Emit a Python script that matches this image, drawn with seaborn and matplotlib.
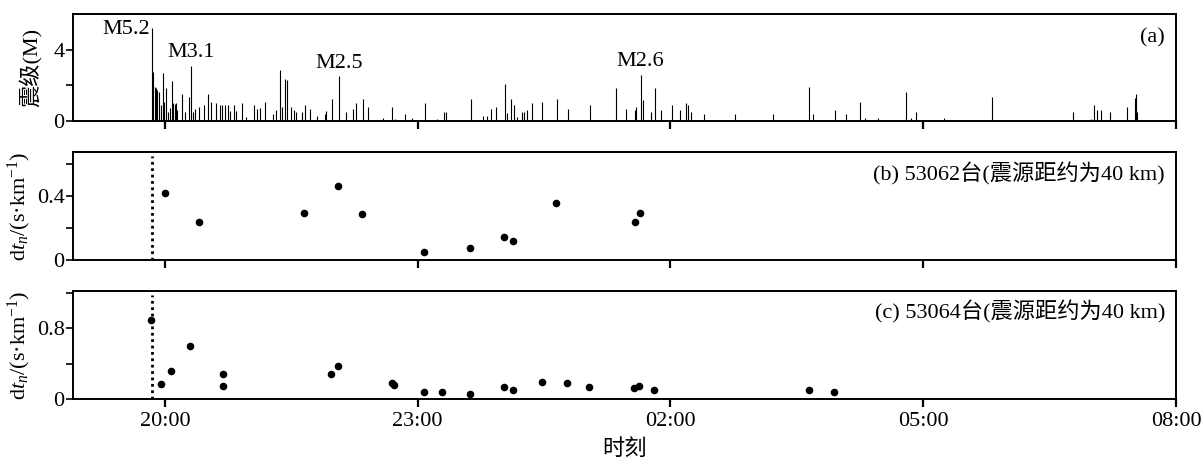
import numpy as np
import matplotlib
matplotlib.use("Agg")
import matplotlib.pyplot as plt
import seaborn as sns

# ---- data: time in hours after 20:00 ----
quake_t = [-0.151, -0.139, -0.122, -0.107, -0.091, -0.075, -0.051, -0.027, -0.012, 0.012,
           0.039, 0.059, 0.087, 0.098, 0.115, 0.130, 0.146, 0.202, 0.245, 0.288,
           0.312, 0.336, 0.359, 0.407, 0.462, 0.518, 0.549, 0.605, 0.660, 0.684,
           0.715, 0.747, 0.771, 0.818, 0.850, 0.913, 0.961, 1.055, 1.095, 1.135,
           1.189, 1.284, 1.316, 1.364, 1.391, 1.427, 1.450, 1.498, 1.538, 1.562,
           1.628, 1.660, 1.728, 1.802, 1.897, 1.917, 1.984, 2.067, 2.155, 2.238,
           2.273, 2.351, 2.411, 2.593, 2.700, 2.727, 2.846, 2.933, 3.083, 3.234,
           3.308, 3.332, 3.629, 3.779, 3.818, 3.874, 3.933, 4.032, 4.056, 4.111,
           4.142, 4.182, 4.242, 4.261, 4.301, 4.360, 4.479, 4.652, 4.782, 5.048,
           5.352, 5.467, 5.577, 5.597, 5.645, 5.676, 5.775, 5.814, 5.890, 6.024,
           6.119, 6.182, 6.210, 6.246, 6.403, 6.771, 7.221, 7.645, 7.692, 7.949,
           8.084, 8.245, 8.309, 8.458, 8.799, 8.855, 8.914, 9.241, 9.822, 10.783,
           10.996, 11.028, 11.060, 11.111, 11.218, 11.423, 11.511, 11.523, 11.535]
quake_m = [5.2, 2.74, 1.93, 1.84, 1.75, 1.65, 0.9, 2.69, 1.09, 1.84,
           0.5, 0.73, 2.25, 1.0, 0.95, 1.0, 0.6, 1.52, 0.5, 1.34,
           3.1, 0.5, 0.7, 0.8, 0.9, 1.52, 1.05, 1.0, 0.9, 0.9,
           0.9, 0.9, 0.55, 0.9, 0.55, 1.0, 0.2, 0.9, 0.7, 0.75,
           1.09, 0.4, 0.6, 2.87, 0.8, 2.37, 2.3, 0.8, 0.6, 0.5,
           0.49, 0.9, 0.68, 0.28, 0.39, 0.58, 1.22, 2.5, 0.49, 0.68,
           1.0, 1.22, 0.81, 0.15, 0.81, 0.1, 0.38, 0.15, 1.0, 0.11,
           0.49, 0.49, 1.22, 0.28, 0.28, 0.68, 0.81, 2.07, 0.43, 1.22,
           0.9, 0.2, 0.49, 0.49, 0.62, 1.0, 1.09, 1.22, 0.68, 0.9,
           1.84, 0.68, 0.62, 0.81, 2.6, 1.18, 0.49, 1.84, 0.62, 0.9,
           0.62, 1.0, 0.9, 0.49, 0.38, 0.39, 0.39, 1.9, 0.39, 0.62,
           0.39, 1.09, 0.19, 0.19, 1.62, 0.19, 0.49, 0.19, 1.33, 0.49,
           0.1, 0.9, 0.62, 0.62, 0.49, 0.81, 1.3, 1.52, 0.49]

# labelled events: (time, magnitude, text)
marked_t = [-0.151, 0.312, 2.067, 5.645]
marked_m = [5.2, 3.1, 2.5, 2.6]
marked_txt = ["M5.2", "M3.1", "M2.5", "M2.6"]

main_shock_t = -0.155

b_t = [-0.004, 0.40, 1.65, 2.055, 2.344, 3.08, 3.617, 4.03, 4.135, 4.64, 5.585, 5.636]
b_dt = [0.42, 0.236, 0.296, 0.462, 0.289, 0.048, 0.073, 0.144, 0.121, 0.358, 0.237, 0.292]

c_t = [-0.166, -0.04, 0.071, 0.30, 0.696, 0.688, 1.968, 2.055, 2.695, 2.72,
       3.08, 3.293, 3.617, 4.03, 4.135, 4.47, 4.775, 5.03, 5.565, 5.633, 5.80,
       7.64, 7.937]
c_dt = [0.895, 0.175, 0.317, 0.606, 0.282, 0.149, 0.278, 0.369, 0.179, 0.157,
        0.08, 0.084, 0.057, 0.137, 0.107, 0.198, 0.183, 0.137, 0.13, 0.149, 0.103,
        0.107, 0.084]

xtick_pos = [0, 3, 6, 9, 12]
xtick_labels = ["20:00", "23:00", "02:00", "05:00", "08:00"]

# ---- style ----
sns.set_theme(style="ticks")
plt.rcParams["font.family"] = ["Liberation Serif", "Noto Sans CJK SC", "DejaVu Sans"]
plt.rcParams["mathtext.fontset"] = "custom"
plt.rcParams["mathtext.rm"] = "Liberation Serif"
plt.rcParams["mathtext.it"] = "Liberation Serif:italic"
plt.rcParams["axes.linewidth"] = 1.4
plt.rcParams["axes.edgecolor"] = "black"
plt.rcParams["axes.labelcolor"] = "black"
plt.rcParams["text.color"] = "black"
plt.rcParams["xtick.color"] = "black"
plt.rcParams["ytick.color"] = "black"

FS = 16
fig = plt.figure(figsize=(12.02, 4.61), dpi=100)
L, W = 73 / 1202, 1103 / 1202
ax_a = fig.add_axes([L, (461 - 121) / 461, W, 107 / 461])
ax_b = fig.add_axes([L, (461 - 260) / 461, W, 108 / 461])
ax_c = fig.add_axes([L, (461 - 399) / 461, W, 108 / 461])

xlim = (-1.09, 12.0)
for ax in (ax_a, ax_b, ax_c):
    ax.set_xlim(*xlim)
    ax.set_xticks(xtick_pos)
    ax.tick_params(axis="x", direction="out", length=6, width=1.6, labelsize=FS, pad=3)
    ax.tick_params(axis="y", direction="out", length=5, width=1.2, labelsize=FS, pad=1)
    for s in ax.spines.values():
        s.set_color("black")
        s.set_linewidth(1.4)

# (a) magnitude sticks
ax_a.vlines(quake_t, 0, quake_m, color="black", lw=0.8)
ax_a.set_ylim(0, 6)
ax_a.set_yticks([0, 2, 4])
ax_a.set_yticklabels(["0", "", "4"])
ax_a.set_xticklabels([])
for t, m, s in zip(marked_t, marked_m, marked_txt):
    if s == "M5.2":
        ax_a.text(t - 0.03, m - 0.05, s, ha="right", va="center", fontsize=FS)
    else:
        ax_a.text(t, m + 0.75, s, ha="center", va="center", fontsize=FS)
ax_a.text(0.99, 0.776, "(a)", transform=ax_a.transAxes, ha="right", va="center", fontsize=FS)
ax_a.set_ylabel("震级(M)", fontsize=FS)

# (b) station 53062
sns.scatterplot(x=b_t, y=b_dt, ax=ax_b, color="black", s=30, linewidth=0)
ax_b.axvline(main_shock_t, ymin=0, ymax=0.96, color="black", lw=2, ls=(0, (1, 1.3)))
ax_b.set_ylim(0, 0.675)
ax_b.set_yticks([0, 0.2, 0.4, 0.6])
ax_b.set_yticklabels(["0", "", "0.4", ""])
ax_b.set_xticklabels([])
ax_b.text(0.99, 0.796, "(b) 53062台(震源距约为40 km)", transform=ax_b.transAxes,
          ha="right", va="center", fontsize=FS)
ax_b.set_ylabel(r"d$t_n$/(s·km$^{-1}$)", fontsize=FS)

# (c) station 53064
sns.scatterplot(x=c_t, y=c_dt, ax=ax_c, color="black", s=30, linewidth=0)
ax_c.axvline(main_shock_t, ymin=0, ymax=0.96, color="black", lw=2, ls=(0, (1, 1.3)))
ax_c.set_ylim(0, 1.225)
ax_c.set_yticks([0, 0.4, 0.8, 1.2])
ax_c.set_yticklabels(["0", "", "0.8", ""])
ax_c.set_xticklabels(xtick_labels)
ax_c.text(0.99, 0.81, "(c) 53064台(震源距约为40 km)", transform=ax_c.transAxes,
          ha="right", va="center", fontsize=FS)
ax_c.set_ylabel(r"d$t_n$/(s·km$^{-1}$)", fontsize=FS)
ax_c.set_xlabel("时刻", fontsize=FS, labelpad=6)

ax_a.yaxis.set_label_coords(-0.028, 0.5)
ax_b.yaxis.set_label_coords(-0.036, 0.5)
ax_c.yaxis.set_label_coords(-0.036, 0.5)

fig.savefig("out.png", dpi=100)
